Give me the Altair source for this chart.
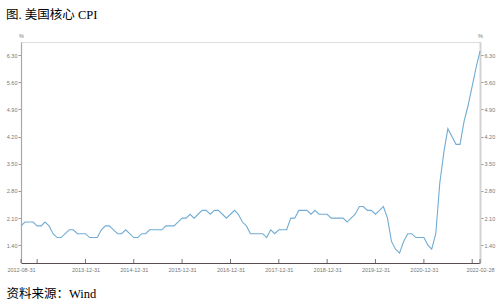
import calendar
import altair as alt
import pandas as pd

# ---- data ----
years_months = [(2012, m) for m in range(8, 13)] + \
    [(y, m) for y in range(2013, 2022) for m in range(1, 13)] + [(2022, 1), (2022, 2)]
dates = [f"{y:04d}-{m:02d}-{calendar.monthrange(y, m)[1]:02d}" for y, m in years_months]

core_cpi = [
    1.9, 2.0, 2.0, 2.0, 1.9,                                      # 2012 Aug-Dec
    1.9, 2.0, 1.9, 1.7, 1.6, 1.6, 1.7, 1.8, 1.8, 1.7, 1.7, 1.7,   # 2013
    1.6, 1.6, 1.6, 1.8, 1.9, 1.9, 1.8, 1.7, 1.7, 1.8, 1.7, 1.6,   # 2014
    1.6, 1.7, 1.7, 1.8, 1.8, 1.8, 1.8, 1.9, 1.9, 1.9, 2.0, 2.1,   # 2015
    2.1, 2.2, 2.1, 2.2, 2.3, 2.3, 2.2, 2.3, 2.3, 2.2, 2.1, 2.2,   # 2016
    2.3, 2.2, 2.0, 1.9, 1.7, 1.7, 1.7, 1.7, 1.6, 1.8, 1.7, 1.8,   # 2017
    1.8, 1.8, 2.1, 2.1, 2.3, 2.3, 2.3, 2.2, 2.3, 2.2, 2.2, 2.2,   # 2018
    2.1, 2.1, 2.1, 2.1, 2.0, 2.1, 2.2, 2.4, 2.4, 2.3, 2.3, 2.2,   # 2019
    2.3, 2.4, 2.1, 1.5, 1.3, 1.2, 1.5, 1.7, 1.7, 1.6, 1.6, 1.6,   # 2020
    1.4, 1.3, 1.7, 3.0, 3.8, 4.4, 4.2, 4.0, 4.0, 4.6, 5.0, 5.5,   # 2021
    6.0, 6.4,                                                     # 2022 Jan-Feb
]

x_tick_dates = [(2012, 8, 31), (2012, 12, 31), (2013, 12, 31), (2014, 12, 31),
                (2015, 12, 31), (2016, 12, 31), (2017, 12, 31), (2018, 12, 31),
                (2019, 12, 31), (2020, 12, 31), (2021, 12, 31), (2022, 2, 28)]
hidden_labels = ["2012-12-31", "2021-12-31"]
y_ticks = [1.40, 2.10, 2.80, 3.50, 4.20, 4.90, 5.60, 6.30]

title_text = "图. 美国核心 CPI"
source_text = "资料来源：Wind"

df = pd.DataFrame({"date": dates, "value": core_cpi})
ticks_df = pd.DataFrame({"date": [f"{y:04d}-{m:02d}-{d:02d}" for y, m, d in x_tick_dates]})

W, H = 459, 221
SERIF = "Liberation Serif, Noto Sans CJK SC"
SANS = "Liberation Sans, Arial, sans-serif"

x_domain = [alt.DateTime(year=2012, month=8, date=31, utc=True),
            alt.DateTime(year=2022, month=2, date=28, utc=True)]
x_values = [alt.DateTime(year=y, month=m, date=d, utc=True) for y, m, d in x_tick_dates]
hidden_js = "[" + ",".join(f"'{h}'" for h in hidden_labels) + "]"
label_expr = (f"indexof({hidden_js}, utcFormat(datum.value, '%Y-%m-%d')) >= 0 ? '' : "
              "utcFormat(datum.value, '%Y-%m-%d')")

x_enc = alt.X(
    "date:T",
    scale=alt.Scale(type="utc", domain=x_domain),
    axis=alt.Axis(
        values=x_values, labelExpr=label_expr, grid=False,
        domainColor="#5b4e4e", domainWidth=1.2, tickSize=0,
        labelFont=SANS, labelFontSize=5.5, labelColor="#777", labelPadding=4,
        labelOverlap=False, labelFlush=False,
        title=source_text, titleFont=SERIF, titleFontSize=12.5,
        titleFontWeight="normal", titleColor="#000", titleX=-15, titleY=30,
        titleAlign="left", titleBaseline="middle", titleAnchor="start",
    ),
)

y_scale = alt.Scale(domain=[0.945, 6.635], zero=False, nice=False)


def y_axis(orient, dom_color, dom_width):
    return alt.Axis(
        orient=orient, values=y_ticks, format=".2f", grid=False,
        domainColor=dom_color, domainWidth=dom_width, tickColor="#999",
        tickSize=3, labelFont=SANS, labelFontSize=5.5, labelColor="#777",
        labelPadding=1,
        title="%", titleAngle=0, titleX=0, titleY=-7, titleAlign="center",
        titleBaseline="middle", titleFont=SANS, titleFontSize=5.5,
        titleFontWeight="normal", titleColor="#777",
    )


line_left = alt.Chart(df).mark_line(color="#72acd3", strokeWidth=1.1).encode(
    x=x_enc,
    y=alt.Y("value:Q", scale=y_scale, axis=y_axis("left", "#a8a8a8", 1.2)),
)
line_right = alt.Chart(df).mark_line(strokeOpacity=0).encode(
    x=alt.X("date:T", scale=alt.Scale(type="utc", domain=x_domain)),
    y=alt.Y("value:Q", scale=y_scale, axis=y_axis("right", "#d2d2d2", 2)),
)
x_ticks = alt.Chart(ticks_df).mark_rule(color="#5b4e4e", strokeWidth=0.8).encode(
    x=alt.X("date:T", scale=alt.Scale(type="utc", domain=x_domain)),
    y=alt.value(H - 4), y2=alt.value(H),
)

chart = alt.layer(line_left, line_right, x_ticks).resolve_scale(y="independent").properties(
    width=W, height=H,
    title=alt.TitleParams(title_text, anchor="start", font=SERIF, fontSize=12.5,
                          fontWeight="normal", color="#000", dx=0, offset=12),
    autosize=alt.AutoSizeParams(type="none"),
    padding={"left": 21, "top": 42, "right": 22, "bottom": 42},
).configure_view(stroke=None).configure(background="white")

chart.save("out.html", embed_options={"renderer": "svg", "actions": False})
